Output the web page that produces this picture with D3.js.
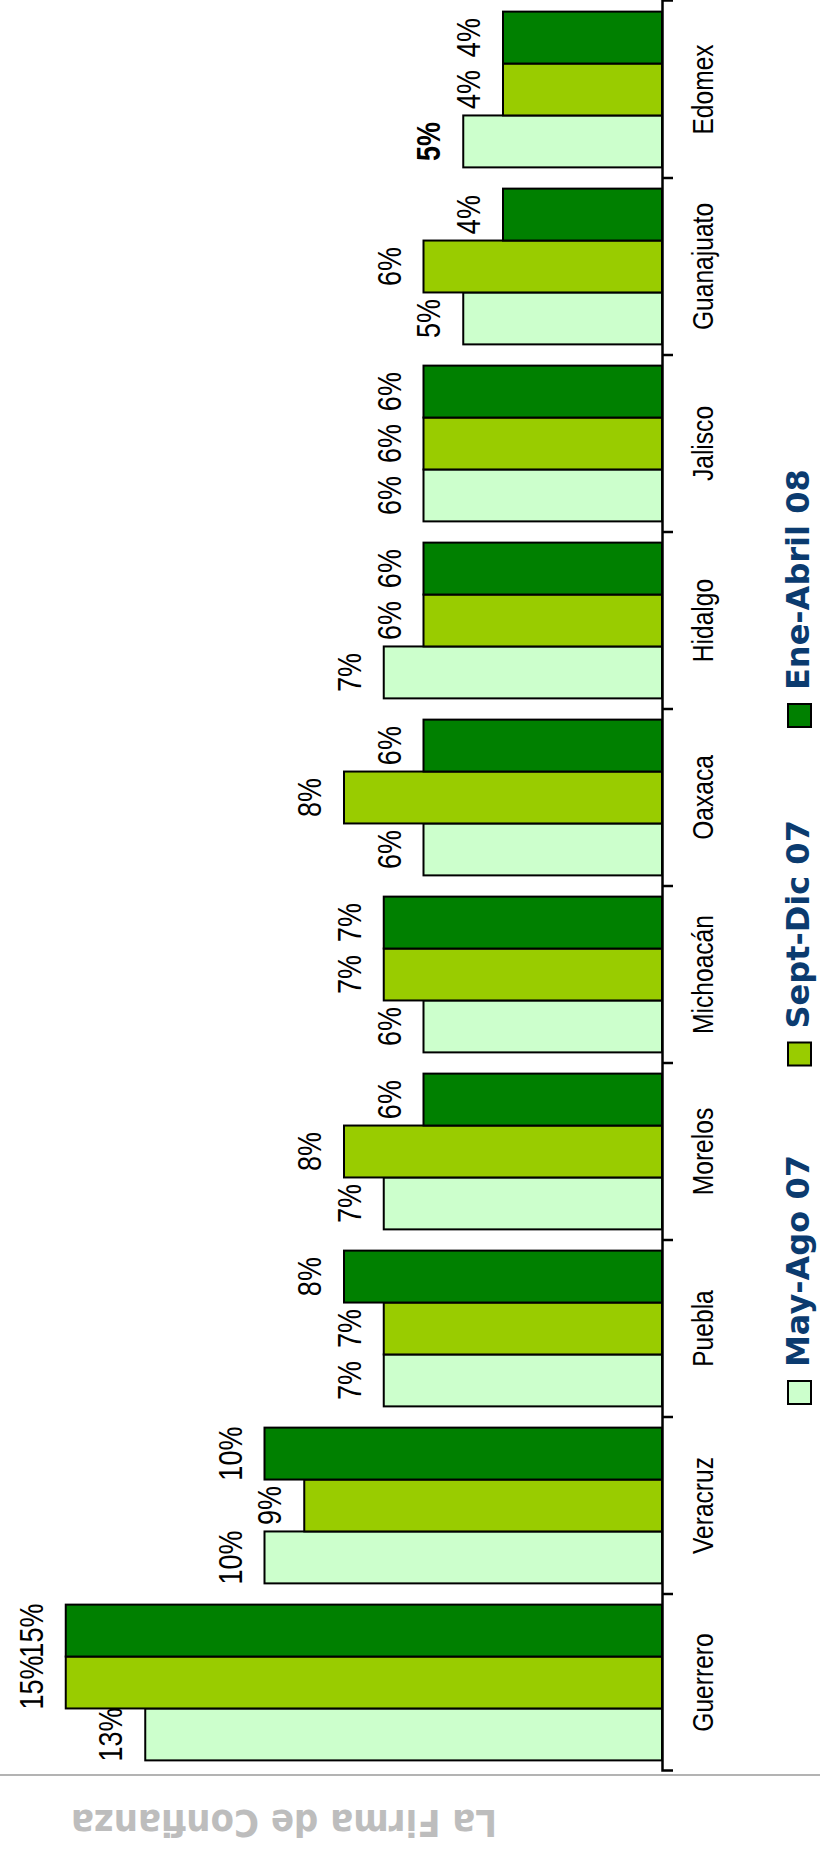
<!DOCTYPE html>
<html>
<head>
<meta charset="utf-8">
<script src="https://cdn.jsdelivr.net/npm/d3@7"></script>
<style>
  html, body { margin: 0; padding: 0; background: #ffffff; }
  svg { display: block; }
</style>
</head>
<body>
<svg id="chart" width="820" height="1855"></svg>
<script>
// ---- data ----
const categories = ["Guerrero", "Veracruz", "Puebla", "Morelos", "Michoacán",
                    "Oaxaca", "Hidalgo", "Jalisco", "Guanajuato", "Edomex"];
const seriesNames = ["May-Ago 07", "Sept-Dic 07", "Ene-Abril 08"];
const mayAgo07    = [13, 10, 7, 7, 6, 6, 7, 6, 5, 5];
const septDic07   = [15,  9, 7, 8, 7, 8, 6, 6, 6, 4];
const eneAbril08  = [15, 10, 8, 6, 7, 6, 6, 6, 4, 4];
const seriesColors = ["#CCFFCC", "#99CC00", "#008000"];
// labels printed in bold
const emphasized = [{ category: "Edomex", series: "May-Ago 07" }];
const watermarkText = "La Firma de Confianza";

// ---- layout ----
const W = 820, H = 1855;
const sans = "'Liberation Sans', Arial, sans-serif";
const narrowScale = 0.82;   // condensed look for the Arial-style labels

const seriesValues = [mayAgo07, septDic07, eneAbril08];
const rows = [];
categories.forEach((c, i) => {
  seriesNames.forEach((s, j) => {
    rows.push({ category: c, series: s, value: seriesValues[j][i], color: seriesColors[j] });
  });
});

const svg = d3.select("#chart");
svg.append("rect").attr("width", W).attr("height", H).attr("fill", "#fff");

// The column chart is laid out upright, then turned a quarter turn
// counter-clockwise: local x runs up the page, local y runs across it.
const g = svg.append("g").attr("transform", `translate(0,${H}) rotate(-90)`);

const x0 = d3.scaleBand().domain(categories).range([84, 1854])
  .paddingInner(0.12).paddingOuter(0.06);
const x1 = d3.scaleBand().domain(seriesNames).range([0, x0.bandwidth()]);
const y = d3.scaleLinear().domain([0, 16]).range([662, 26]);

// bars
g.append("g").selectAll("rect").data(rows).join("rect")
  .attr("x", d => x0(d.category) + x1(d.series))
  .attr("width", x1.bandwidth())
  .attr("y", d => y(d.value))
  .attr("height", d => y(0) - y(d.value))
  .attr("fill", d => d.color)
  .attr("stroke", "#000")
  .attr("stroke-width", 2);

// value labels
const isBold = d => emphasized.some(e => e.category === d.category && e.series === d.series);
g.append("g").selectAll("text").data(rows).join("text")
  .attr("transform", d =>
    `translate(${x0(d.category) + x1(d.series) + x1.bandwidth() / 2},${y(d.value) - 23}) scale(${narrowScale},1)`)
  .attr("text-anchor", "middle")
  .attr("font-family", sans)
  .attr("font-size", 33)
  .attr("font-weight", d => isBold(d) ? "bold" : "normal")
  .attr("fill", "#000")
  .text(d => d.value + "%");

// category axis
const axis = d3.axisBottom(x0).tickSize(0).tickSizeOuter(11).tickPadding(0);
const ax = g.append("g").attr("transform", `translate(0,${y(0)})`).call(axis);
ax.select(".domain").attr("stroke", "#000").attr("stroke-width", 2.5);
ax.selectAll(".tick text")
  .attr("y", 0).attr("dy", null)
  .attr("transform", `translate(0,51) scale(${narrowScale},1)`)
  .attr("font-family", sans)
  .attr("font-size", 30)
  .attr("fill", "#000");
// boundary ticks between categories
const step = x0.step();
const bounds = categories.slice(1).map(c => x0(c) - step * x0.paddingInner() / 2);
ax.append("g").selectAll("line").data(bounds).join("line")
  .attr("x1", d => d).attr("x2", d => d)
  .attr("y1", 0).attr("y2", 11)
  .attr("stroke", "#000").attr("stroke-width", 2.5);

// legend
const legendPos = d3.scalePoint().domain(seriesNames).range([451, 1128]);
const leg = g.append("g").selectAll("g").data(seriesNames).join("g")
  .attr("transform", s => `translate(${legendPos(s)},788)`);
leg.append("rect")
  .attr("width", 23).attr("height", 23)
  .attr("fill", (s, i) => seriesColors[i])
  .attr("stroke", "#000").attr("stroke-width", 2);
leg.append("text")
  .attr("x", 37).attr("y", 21)
  .attr("font-family", "'DejaVu Sans', sans-serif")
  .attr("font-weight", "bold")
  .attr("font-size", 32)
  .attr("fill", "#0B3B6F")
  .text(s => s);

// separator rule
svg.append("line")
  .attr("x1", 0).attr("x2", W).attr("y1", 1775).attr("y2", 1775)
  .attr("stroke", "#9a9a9a").attr("stroke-width", 1.5);

// watermark, printed upside down
svg.append("text")
  .attr("transform", "translate(284,1810) rotate(180)")
  .attr("text-anchor", "middle")
  .attr("font-family", "'DejaVu Sans', sans-serif")
  .attr("font-weight", "bold")
  .attr("font-size", 38)
  .attr("textLength", 426)
  .attr("lengthAdjust", "spacingAndGlyphs")
  .attr("fill", "#bdbdbd")
  .text(watermarkText);
</script>
</body>
</html>
